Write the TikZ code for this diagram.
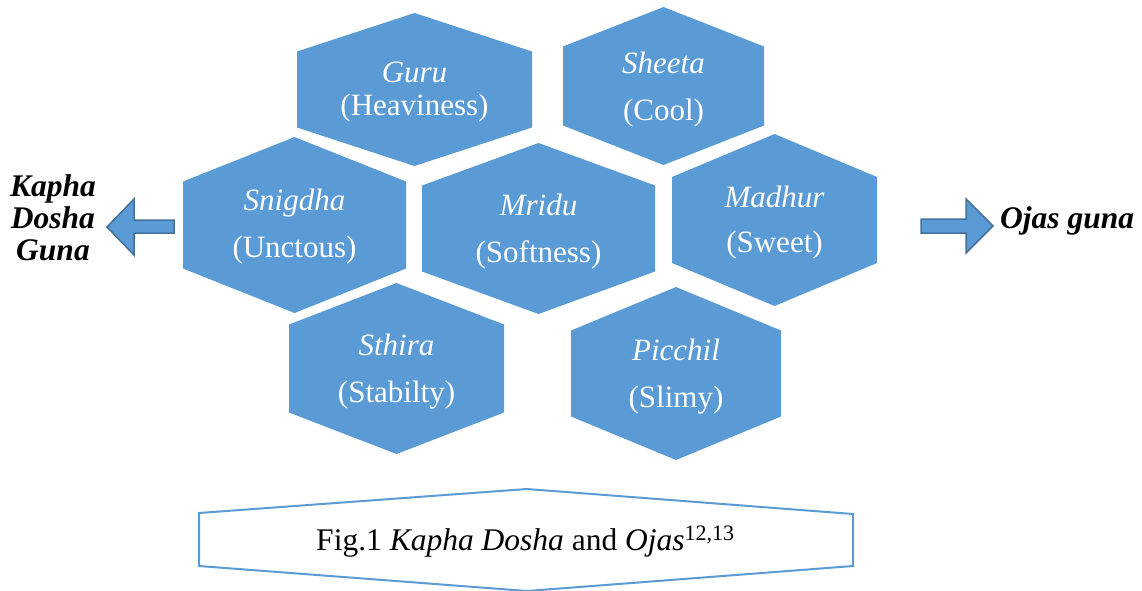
\documentclass[tikz,border=0pt]{standalone}
\usepackage{fontspec}
\setmainfont{Liberation Serif}
\definecolor{hexblue}{HTML}{5B9BD5}
\definecolor{arrowedge}{HTML}{41719C}
\tikzset{
  hexfill/.style={fill=hexblue, draw=none},
  hextop/.style={anchor=base, text=white, font=\fontsize{31}{33}\selectfont\itshape, inner sep=0pt},
  hexbot/.style={anchor=base, text=white, font=\fontsize{31}{33}\selectfont, inner sep=0pt},
  blockarrow/.style={fill=hexblue, draw=arrowedge, line width=1.5pt, line join=miter},
  sidelabel/.style={anchor=base, font=\fontsize{31.5}{32}\selectfont\bfseries\itshape, inner sep=0pt},
  capbox/.style={draw=hexblue, line width=2pt, fill=white, line join=miter},
  captext/.style={anchor=base, font=\fontsize{31.5}{34}\selectfont, inner sep=0pt}
}
% #1 name, #2 cx, #3 cy, #4 half width, #5 apex, #6 side
\newcommand\hexcell[6]{%
  \coordinate (#1) at (#2,#3);
  \path[hexfill] (#2,#3-#5) -- (#2+#4,#3-#6) -- (#2+#4,#3+#6) -- (#2,#3+#5) -- (#2-#4,#3+#6) -- (#2-#4,#3-#6) -- cycle;
}
\begin{document}
\begin{tikzpicture}[x=1pt,y=-1pt]
\useasboundingbox (0,0) rectangle (1142,590);

\hexcell{guru}{414.5}{89.5}{117.5}{76.5}{38}
\hexcell{sheeta}{663.5}{86}{100.5}{79}{39.5}
\hexcell{snigdha}{294.5}{225}{111.5}{88}{43.5}
\hexcell{mridu}{538.5}{228.5}{116.5}{85.5}{43}
\hexcell{madhur}{774.5}{220}{102.5}{86}{43}
\hexcell{sthira}{396.5}{368.5}{107.5}{85.5}{44}
\hexcell{picchil}{676}{373.5}{105}{86.5}{43}

\node[hextop] (t1a) at (414.5,82) {Guru};
\node[hexbot] (t1b) at (414.5,115) {(Heaviness)};
\node[hextop] (t2a) at (663.5,73) {Sheeta};
\node[hexbot] (t2b) at (663.5,120) {(Cool)};
\node[hextop] (t3a) at (294.5,210) {Snigdha};
\node[hexbot] (t3b) at (294.5,257) {(Unctous)};
\node[hextop] (t4a) at (538.5,215) {Mridu};
\node[hexbot] (t4b) at (538.5,262) {(Softness)};
\node[hextop] (t5a) at (774.5,207) {Madhur};
\node[hexbot] (t5b) at (774.5,252) {(Sweet)};
\node[hextop] (t6a) at (396.5,355) {Sthira};
\node[hexbot] (t6b) at (396.5,402) {(Stabilty)};
\node[hextop] (t7a) at (676,360) {Picchil};
\node[hexbot] (t7b) at (676,407) {(Slimy)};

% left block arrow
\path[blockarrow] (107,227) -- (134,199) -- (134,220) -- (174,220) -- (174,233) -- (134,233) -- (134,255) -- cycle;
% right block arrow
\path[blockarrow] (993,226) -- (966,199) -- (966,219) -- (921,219) -- (921,233) -- (966,233) -- (966,253) -- cycle;

\node[sidelabel] (kl1) at (53,196) {Kapha};
\node[sidelabel] (kl2) at (53,228) {Dosha};
\node[sidelabel] (kl3) at (53,260) {Guna};
\node[sidelabel, anchor=base west] (oj) at (1000,228) {Ojas guna};

\path[capbox] (199,513) -- (527,489) -- (853,514) -- (853,566) -- (527,591) -- (199,566) -- cycle;
\node[captext] (cap) at (525.5,550) {Fig.1 \textit{Kapha Dosha} and \textit{Ojas}\textsuperscript{12,13}};
\end{tikzpicture}
\end{document}
